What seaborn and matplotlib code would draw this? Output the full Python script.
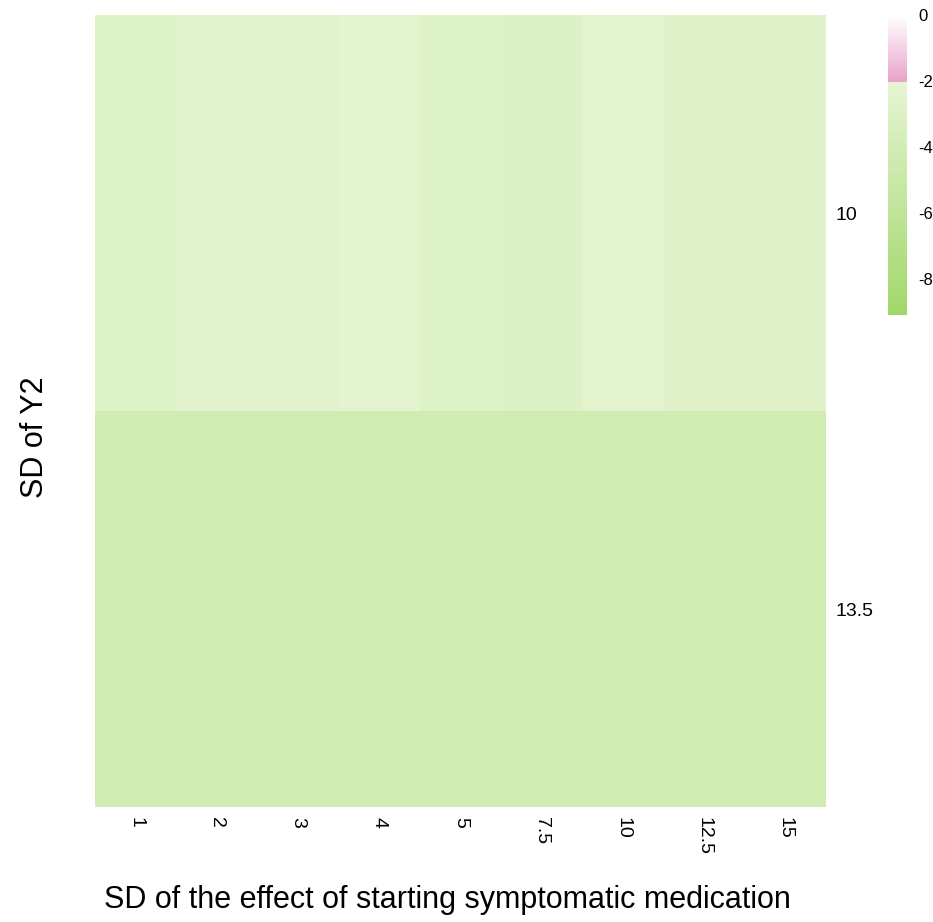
import numpy as np
import pandas as pd
import matplotlib
matplotlib.use("Agg")
import matplotlib.pyplot as plt
import seaborn as sns
from matplotlib.colors import LinearSegmentedColormap

# values
sd_effect = ["1", "2", "3", "4", "5", "7.5", "10", "12.5", "15"]
sd_y2 = ["10", "13.5"]
row_10 = [-2.8, -2.5, -2.5, -2.3, -2.8, -3.0, -2.4, -2.7, -2.7]
row_13_5 = [-4.2, -4.2, -4.2, -4.2, -4.2, -4.2, -4.2, -4.2, -4.2]

data = pd.DataFrame([row_10, row_13_5], index=sd_y2, columns=sd_effect)

vmin, vmax = -9.1, 0.0
cut = (-2 - vmin) / (vmax - vmin)
cmap = LinearSegmentedColormap.from_list(
    "pigy",
    [(0.0, "#A1D76A"), (cut, "#E6F5D4"), (cut, "#E9A3C9"), (1.0, "#FFFFFF")],
)

sns.set_style("white")
plt.rcParams["font.family"] = ["Liberation Sans", "DejaVu Sans"]
plt.rcParams["axes.unicode_minus"] = False
plt.rcParams["text.color"] = "black"
plt.rcParams["xtick.color"] = "black"
plt.rcParams["ytick.color"] = "black"

fig = plt.figure(figsize=(9.33, 9.22), dpi=100)
W, H = 933.0, 922.0
ax = fig.add_axes([95 / W, (H - 807) / H, 731 / W, 792 / H])
cax = fig.add_axes([888 / W, (H - 315) / H, 19 / W, 300 / H])

sns.heatmap(data, cmap=cmap, vmin=vmin, vmax=vmax, ax=ax, cbar_ax=cax,
            linewidths=0, cbar_kws={"ticks": [0, -2, -4, -6, -8]})

ax.yaxis.tick_right()
ax.tick_params(axis="both", length=0, labelsize=14, pad=7)
plt.setp(ax.get_yticklabels(), rotation=0)
plt.setp(ax.get_xticklabels(), rotation=-90, va="top", ha="center")
ax.set_xlabel("")
ax.set_ylabel("")
fig.text(447 / W, 1 - 900 / H,
         "SD of the effect of starting symptomatic medication",
         fontsize=22, ha="center", va="center")
fig.text(35 / W, 1 - 437 / H, "SD of Y2", rotation=90, fontsize=22,
         ha="center", va="center")

cax.tick_params(length=0, labelsize=12, pad=8)
cax.set_frame_on(False)
cb = ax.collections[0].colorbar
cb.outline.set_visible(False)

fig.savefig("out.png", dpi=100)
